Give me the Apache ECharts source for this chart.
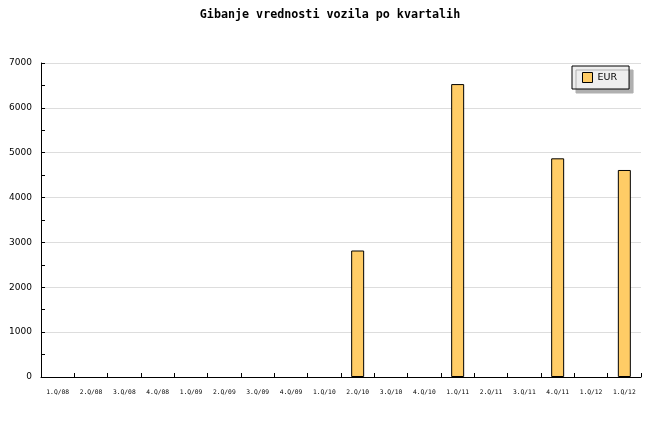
<!DOCTYPE html>
<html>
<head>
<meta charset="utf-8">
<script src="https://cdn.jsdelivr.net/npm/echarts@6/dist/echarts.min.js"></script>
<style>html,body{margin:0;padding:0;background:#fff}#c{width:660px;height:440px}</style>
</head>
<body>
<div id="c"></div>
<script>
const title = 'Gibanje vrednosti vozila po kvartalih';
const categories = ['1.Q/08','2.Q/08','3.Q/08','4.Q/08','1.Q/09','2.Q/09','3.Q/09','4.Q/09','1.Q/10','2.Q/10','3.Q/10','4.Q/10','1.Q/11','2.Q/11','3.Q/11','4.Q/11','1.Q/12','1.Q/12'];
const seriesName = 'EUR';
const eurValues = [null,null,null,null,null,null,null,null,null,2820,null,null,6530,null,null,4875,null,4615];
const yTicks = [0,1000,2000,3000,4000,5000,6000,7000];

const chart = echarts.init(document.getElementById('c'), null, {renderer:'canvas'});
chart.setOption({
  animation: false,
  backgroundColor: '#fff',
  title: {
    text: title, left: 'center', top: 4,
    textStyle: {fontFamily: 'DejaVu Sans Mono', fontWeight: 'bold', fontSize: 11.7, color: '#000'}
  },
  legend: {
    data: [seriesName], left: 572, top: 66,
    backgroundColor: '#eeeeee', borderColor: '#000', borderWidth: 1,
    padding: [6, 12, 6, 10], itemWidth: 10, itemHeight: 10, itemGap: 5,
    shadowColor: '#b0b0b0', shadowOffsetX: 4, shadowOffsetY: 4, shadowBlur: 0,
    icon: 'rect',
    itemStyle: {borderWidth: 1, borderColor: '#000'},
    textStyle: {fontFamily: 'DejaVu Sans', fontSize: 9.5, color: '#000', padding: [0,0,0,0]}
  },
  grid: {left: 41, right: 19, top: 63, bottom: 63, containLabel: false},
  xAxis: {
    type: 'category', data: categories, boundaryGap: true,
    axisLine: {show: true, lineStyle: {color: '#000', width: 1}},
    axisTick: {show: true, inside: false, length: -4, interval: 0, alignWithLabel: false, lineStyle: {color: '#000', width: 1}},
    axisLabel: {interval: 0, fontFamily: 'DejaVu Sans Mono', fontSize: 6.3, color: '#000', margin: 12,
      formatter: (v, i) => categories[i]},
    splitLine: {show: false}
  },
  yAxis: {
    type: 'value', min: yTicks[0], max: yTicks[yTicks.length-1], interval: 1000,
    axisLine: {show: true, lineStyle: {color: '#000', width: 1}},
    axisTick: {show: true, inside: false, length: -4, lineStyle: {color: '#000'}},
    minorTick: {show: true, splitNumber: 2, length: -4, lineStyle: {color: '#000'}},
    axisLabel: {fontFamily: 'DejaVu Sans', fontSize: 9, color: '#000', margin: 9,
      formatter: v => String(v)},
    splitLine: {show: true, lineStyle: {color: '#dddddd', width: 1}}
  },
  series: [{
    name: seriesName, type: 'bar', data: eurValues, barWidth: 13,
    itemStyle: {color: '#ffcc66', borderColor: '#000', borderWidth: 1}
  }]
});
</script>
</body>
</html>
